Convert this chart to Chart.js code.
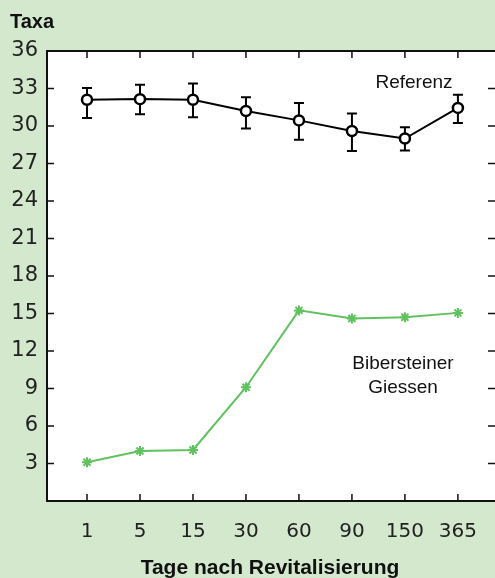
<!DOCTYPE html>
<html>
<head>
<meta charset="utf-8">
<script src="https://cdn.jsdelivr.net/npm/chart.js@4/dist/chart.umd.min.js"></script>
<style>
  body { margin: 0; background: #d3e8cd; }
  canvas { display: block; }
</style>
</head>
<body>
<canvas id="taxa" width="495" height="578"></canvas>
<script>
// Taxa nach Revitalisierung
var days = ['1', '5', '15', '30', '60', '90', '150', '365'];
var referenz = [32.1, 32.15, 32.1, 31.2, 30.45, 29.6, 29.0, 31.45];
var referenzHigh = [33.05, 33.3, 33.4, 32.3, 31.85, 31.0, 29.9, 32.5];
var referenzLow = [30.65, 30.95, 30.7, 29.8, 28.9, 28.0, 28.05, 30.25];
var bibersteiner = [3.1, 4.0, 4.08, 9.1, 15.25, 14.6, 14.7, 15.05];
var yTicks = [0, 3, 6, 9, 12, 15, 18, 21, 24, 27, 30, 33, 36];

var FONT = "'Liberation Sans', Roboto, sans-serif";
var TICKFONT = "'DejaVu Sans', sans-serif";

function toPoints(arr) {
    return arr.map(function (v, i) { return { x: i + 1, y: v }; });
}

// white plot area, frame, inward ticks, error bars and labels
var extras = {
    id: 'extras',
    beforeDraw: function (chart) {
        var ctx = chart.ctx, a = chart.chartArea;
        ctx.save();
        ctx.fillStyle = '#fff';
        ctx.fillRect(a.left, a.top, a.right - a.left, a.bottom - a.top);
        ctx.restore();
    },
    beforeDatasetsDraw: function (chart) {
        var ctx = chart.ctx, a = chart.chartArea;
        var xs = chart.scales.x, ys = chart.scales.y;
        ctx.save();
        ctx.strokeStyle = '#111';
        ctx.lineWidth = 2;
        ctx.beginPath();
        ctx.moveTo(a.left, a.top);
        ctx.lineTo(a.right, a.top);
        ctx.stroke();
        ctx.lineWidth = 1.5;
        ctx.beginPath();
        days.forEach(function (d, i) {
            var px = xs.getPixelForValue(i + 1);
            ctx.moveTo(px, a.top); ctx.lineTo(px, a.top + 7);
            ctx.moveTo(px, a.bottom); ctx.lineTo(px, a.bottom - 7);
        });
        yTicks.forEach(function (t) {
            if (t === 0 || t === 36) return;
            var py = ys.getPixelForValue(t);
            ctx.moveTo(a.left, py); ctx.lineTo(a.left + 7, py);
            ctx.moveTo(a.right, py); ctx.lineTo(a.right - 7, py);
        });
        ctx.stroke();
        // error bars
        ctx.strokeStyle = '#000';
        ctx.lineWidth = 2;
        ctx.beginPath();
        referenz.forEach(function (v, i) {
            var px = xs.getPixelForValue(i + 1);
            var hi = ys.getPixelForValue(referenzHigh[i]);
            var lo = ys.getPixelForValue(referenzLow[i]);
            ctx.moveTo(px, hi); ctx.lineTo(px, lo);
            ctx.moveTo(px - 5, hi); ctx.lineTo(px + 5, hi);
            ctx.moveTo(px - 5, lo); ctx.lineTo(px + 5, lo);
        });
        ctx.stroke();
        ctx.restore();
    },
    afterDraw: function (chart) {
        var ctx = chart.ctx;
        ctx.save();
        ctx.fillStyle = '#111';
        ctx.font = "bold 20px " + FONT;
        ctx.textAlign = 'left';
        ctx.textBaseline = 'alphabetic';
        ctx.fillText('Taxa', 10, 28);
        ctx.textAlign = 'center';
        ctx.font = "bold 21px " + FONT;
        ctx.fillText('Tage nach Revitalisierung', 270, 574);
        ctx.font = "19px " + FONT;
        ctx.fillText('Referenz', 414, 88);
        ctx.fillText('Bibersteiner', 403, 369);
        ctx.fillText('Giessen', 403, 393);
        ctx.restore();
    }
};

new Chart(document.getElementById('taxa'), {
    type: 'line',
    data: {
        datasets: [
            {
                label: 'Referenz',
                data: toPoints(referenz),
                borderColor: '#000',
                backgroundColor: '#fff',
                borderWidth: 2,
                pointRadius: 5,
                pointBorderWidth: 2.5,
                pointStyle: 'circle'
            },
            {
                label: 'Bibersteiner Giessen',
                data: toPoints(bibersteiner),
                borderColor: '#5fc25f',
                backgroundColor: '#5fc25f',
                borderWidth: 2,
                pointRadius: 5,
                pointBorderWidth: 2,
                pointStyle: 'star'
            }
        ]
    },
    options: {
        responsive: false,
        animation: false,
        layout: { autoPadding: false, padding: { top: 51, right: 0, left: 0, bottom: 0 } },
        plugins: {
            legend: { display: false },
            tooltip: { enabled: false }
        },
        scales: {
            x: {
                type: 'linear',
                min: 0.245,
                max: 8.7,
                afterBuildTicks: function (scale) {
                    scale.ticks = days.map(function (d, i) { return { value: i + 1 }; });
                },
                afterFit: function (scale) {
                    scale.height = 77;
                    scale.paddingLeft = 0;
                    scale.paddingRight = 0;
                },
                grid: { display: false, drawTicks: false },
                border: { display: true, color: '#111', width: 2 },
                ticks: {
                    padding: 19,
                    color: '#222',
                    font: { size: 20, family: TICKFONT },
                    maxRotation: 0,
                    autoSkip: false,
                    callback: function (v) { return days[v - 1]; }
                }
            },
            y: {
                min: 0,
                max: 36,
                afterBuildTicks: function (scale) {
                    scale.ticks = yTicks.map(function (t) { return { value: t }; });
                },
                afterFit: function (scale) {
                    scale.width = 47;
                    scale.paddingTop = 0;
                    scale.paddingBottom = 0;
                },
                grid: { display: false, drawTicks: false },
                border: { display: true, color: '#111', width: 2 },
                ticks: {
                    padding: 9,
                    color: '#222',
                    font: { size: 21, family: TICKFONT },
                    callback: function (v) { return v === 0 ? '' : v; }
                }
            }
        }
    },
    plugins: [extras]
});
</script>
</body>
</html>
